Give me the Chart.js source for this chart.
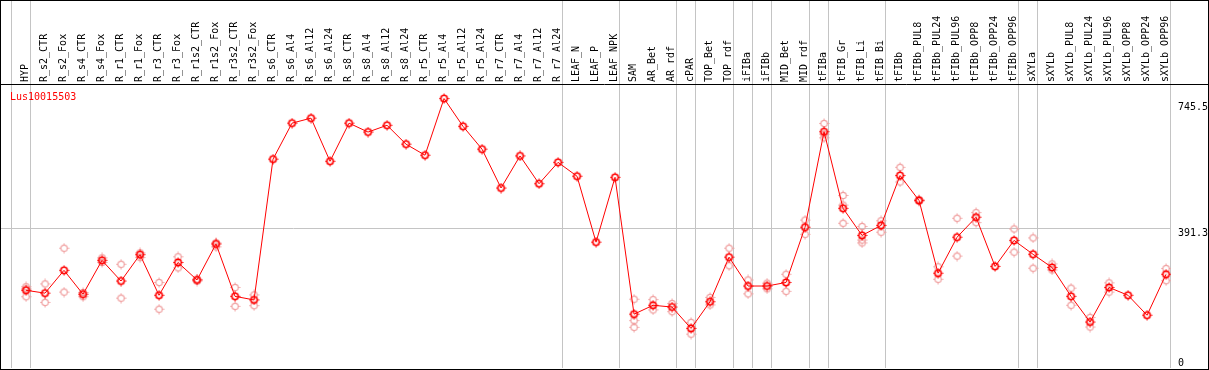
<!DOCTYPE html>
<html>
<head>
<meta charset="utf-8">
<script src="https://cdn.jsdelivr.net/npm/chart.js@4"></script>
<style>
  html, body { margin: 0; padding: 0; background: #fff; }
</style>
</head>
<body>
<canvas id="exprChart" width="1209" height="370"></canvas>
<script>
// Expression profile of one gene across tissues and treatments

const geneName = 'Lus10015503';

const categories = [
  'HYP', 'R_s2_CTR', 'R_s2_Fox', 'R_s4_CTR', 'R_s4_Fox', 'R_r1_CTR', 'R_r1_Fox',
  'R_r3_CTR', 'R_r3_Fox', 'R_r1s2_CTR', 'R_r1s2_Fox', 'R_r3s2_CTR', 'R_r3s2_Fox',
  'R_s6_CTR', 'R_s6_Al4', 'R_s6_Al12', 'R_s6_Al24', 'R_s8_CTR', 'R_s8_Al4', 'R_s8_Al12',
  'R_s8_Al24', 'R_r5_CTR', 'R_r5_Al4', 'R_r5_Al12', 'R_r5_Al24', 'R_r7_CTR', 'R_r7_Al4',
  'R_r7_Al12', 'R_r7_Al24', 'LEAF_N', 'LEAF_P', 'LEAF_NPK', 'SAM', 'AR_Bet', 'AR_rdf',
  'cPAR', 'TOP_Bet', 'TOP_rdf', 'iFIBa', 'iFIBb', 'MID_Bet', 'MID_rdf', 'tFIBa',
  'tFIB_Gr', 'tFIB_Li', 'tFIB_Bi', 'tFIBb', 'tFIBb_PUL8', 'tFIBb_PUL24', 'tFIBb_PUL96',
  'tFIBb_OPP8', 'tFIBb_OPP24', 'tFIBb_OPP96', 'sXYLa', 'sXYLb', 'sXYLb_PUL8',
  'sXYLb_PUL24', 'sXYLb_PUL96', 'sXYLb_OPP8', 'sXYLb_OPP24', 'sXYLb_OPP96'
];

// mean value per sample
const meanValues = [
  218, 210, 274, 207, 302, 244, 318, 204, 296, 247, 348, 201, 191,
  586, 687, 701, 580, 687, 662, 681, 628, 597, 756, 678, 614, 505, 595, 517, 577,
  538, 353, 535,
  151, 176, 171, 111, 186, 311, 230, 230, 240, 395, 663, 448, 372, 400, 540,
  470, 266, 367, 423, 285, 358, 319, 282, 201, 129, 226, 204, 148, 263
];

// single replicates (null = none shown)
const N = null;
const repA = [
  228, 236, 336, 212, 309, 291, 323, 240, 312, 249, 351, 226, 205,
  N, N, N, N, N, N, N, N, N, N, N, N, N, N, N, N, N, N, N,
  193, 192, 181, 128, 198, 336, 247, 238, 263, 415, 686, 484, 397, 413, 563,
  473, 284, 420, 436, N, 390, 365, 292, 224, 142, 239, N, N, 279
];
const repB = [
  200, 184, 213, 200, 296, 196, 310, 165, 281, 244, 340, 173, 175,
  N, N, N, N, N, N, N, N, N, N, N, N, N, N, N, N, N, N, N,
  133, 163, 158, 95, 177, 287, 208, 222, 215, 375, 656, 406, 359, 381, 522,
  468, 249, 314, 408, N, 325, 280, 275, 176, 115, 213, N, N, 245
];
const repC = [
  222, N, N, N, N, N, N, N, N, N, N, N, N,
  N, N, N, N, N, N, N, N, N, N, N, N, N, N, N, N, N, N, N,
  114, N, N, N, N, N, N, N, N, N, 646, 457, 351, N, N,
  N, N, N, N, N, N, N, N, N, N, N, N, N, N
];

// index of the last sample in each group (separator drawn just after it)
const groupEnds = [-1, 0, 28, 31, 34, 35, 37, 38, 39, 41, 42, 45, 52, 53, 60];

const yTicks = [0, 391.3, 745.5];

const red = '#ff0000';
const pink = '#f0a0a0';
const gridGray = '#c4c4c4';
const mono = "'DejaVu Sans Mono', monospace";

const toPoints = (vals) =>
  vals.map((v, i) => (v === null ? null : { x: i, y: v })).filter((p) => p);

const meanPoints = toPoints(meanValues);
const repPoints = [repA, repB, repC].flatMap(toPoints);

const xMin = -1.316;
const xMax = 60.26;

const align = (px) => Math.round(px - 0.5) + 0.5;

// small ring with four tick nubs, used as point marker
function makeMarker(color, width) {
  const c = document.createElement('canvas');
  c.width = 11;
  c.height = 11;
  const g = c.getContext('2d');
  g.strokeStyle = color;
  g.lineWidth = width;
  g.beginPath();
  g.arc(5.5, 5.5, 3.2, 0, Math.PI * 2);
  g.stroke();
  g.lineWidth = 1;
  g.beginPath();
  g.moveTo(5.5, 0.5); g.lineTo(5.5, 2);
  g.moveTo(5.5, 9); g.lineTo(5.5, 10.5);
  g.moveTo(0.5, 5.5); g.lineTo(2, 5.5);
  g.moveTo(9, 5.5); g.lineTo(10.5, 5.5);
  g.stroke();
  return c;
}

// header gridlines, y labels, gene name and frame
const decorPlugin = {
  id: 'decor',
  afterDraw(chart) {
    const { ctx, chartArea, scales } = chart;
    const W = chart.width;
    const H = chart.height;
    ctx.save();

    ctx.strokeStyle = gridGray;
    ctx.lineWidth = 1;
    scales.x.ticks.forEach((t) => {
      const px = align(scales.x.getPixelForValue(t.value));
      ctx.beginPath();
      ctx.moveTo(px, 0);
      ctx.lineTo(px, chartArea.top);
      ctx.stroke();
    });

    ctx.font = '10px ' + mono;
    ctx.fillStyle = '#000';
    ctx.textAlign = 'left';
    ctx.textBaseline = 'top';
    scales.y.ticks.forEach((t) => {
      let py = scales.y.getPixelForValue(t.value);
      py = Math.min(py, chartArea.bottom - 10);
      ctx.fillText(String(t.value), chartArea.right + 7, py);
    });

    ctx.fillStyle = red;
    ctx.fillText(geneName, chartArea.left + 9, chartArea.top + 7);

    ctx.strokeStyle = '#000';
    ctx.beginPath();
    ctx.moveTo(0, chartArea.top - 0.5);
    ctx.lineTo(W, chartArea.top - 0.5);
    ctx.stroke();
    ctx.strokeRect(0.5, 0.5, W - 1, H - 1);
    ctx.restore();
  }
};

const noSidePadding = (s) => {
  s.paddingLeft = 0;
  s.paddingRight = 0;
};

new Chart(document.getElementById('exprChart'), {
  type: 'line',
  data: {
    datasets: [
      {
        label: 'mean',
        data: meanPoints,
        borderColor: red,
        borderWidth: 1,
        pointStyle: makeMarker(red, 1.6),
        pointRadius: 5,
        tension: 0,
        order: 0
      },
      {
        label: 'replicates',
        data: repPoints,
        showLine: false,
        pointStyle: makeMarker(pink, 1.2),
        pointRadius: 5,
        order: 1
      }
    ]
  },
  options: {
    responsive: false,
    animation: false,
    devicePixelRatio: 1,
    layout: {
      autoPadding: false,
      padding: { left: 1, right: 0, top: 0, bottom: 2 }
    },
    plugins: {
      legend: { display: false },
      tooltip: { enabled: false }
    },
    scales: {
      x: {
        type: 'linear',
        position: 'bottom',
        min: xMin,
        max: xMax,
        afterBuildTicks: (s) => {
          s.ticks = groupEnds.map((g) => ({ value: g + 0.24 }));
        },
        afterFit: (s) => {
          s.height = 0;
          noSidePadding(s);
        },
        ticks: { display: false },
        grid: { color: gridGray, lineWidth: 1, drawTicks: false },
        border: { display: false }
      },
      x2: {
        type: 'linear',
        position: 'top',
        min: xMin,
        max: xMax,
        afterBuildTicks: (s) => {
          s.ticks = categories.map((c, i) => ({ value: i }));
        },
        afterFit: (s) => {
          s.height = 85;
          noSidePadding(s);
        },
        ticks: {
          autoSkip: false,
          minRotation: 90,
          maxRotation: 90,
          padding: 3,
          labelOffset: 11,
          color: '#000',
          font: { family: mono, size: 10 },
          callback: (v) => categories[v]
        },
        grid: { display: false, drawTicks: false },
        border: { display: false }
      },
      y: {
        type: 'linear',
        position: 'right',
        min: 0,
        max: 794,
        afterBuildTicks: (s) => {
          s.ticks = yTicks.map((v) => ({ value: v }));
        },
        afterFit: (s) => { s.width = 38; },
        ticks: { display: false },
        grid: {
          drawTicks: false,
          color: (c) => (c.index === 1 ? gridGray : 'rgba(0,0,0,0)')
        },
        border: { display: false }
      }
    }
  },
  plugins: [decorPlugin]
});
</script>
</body>
</html>
